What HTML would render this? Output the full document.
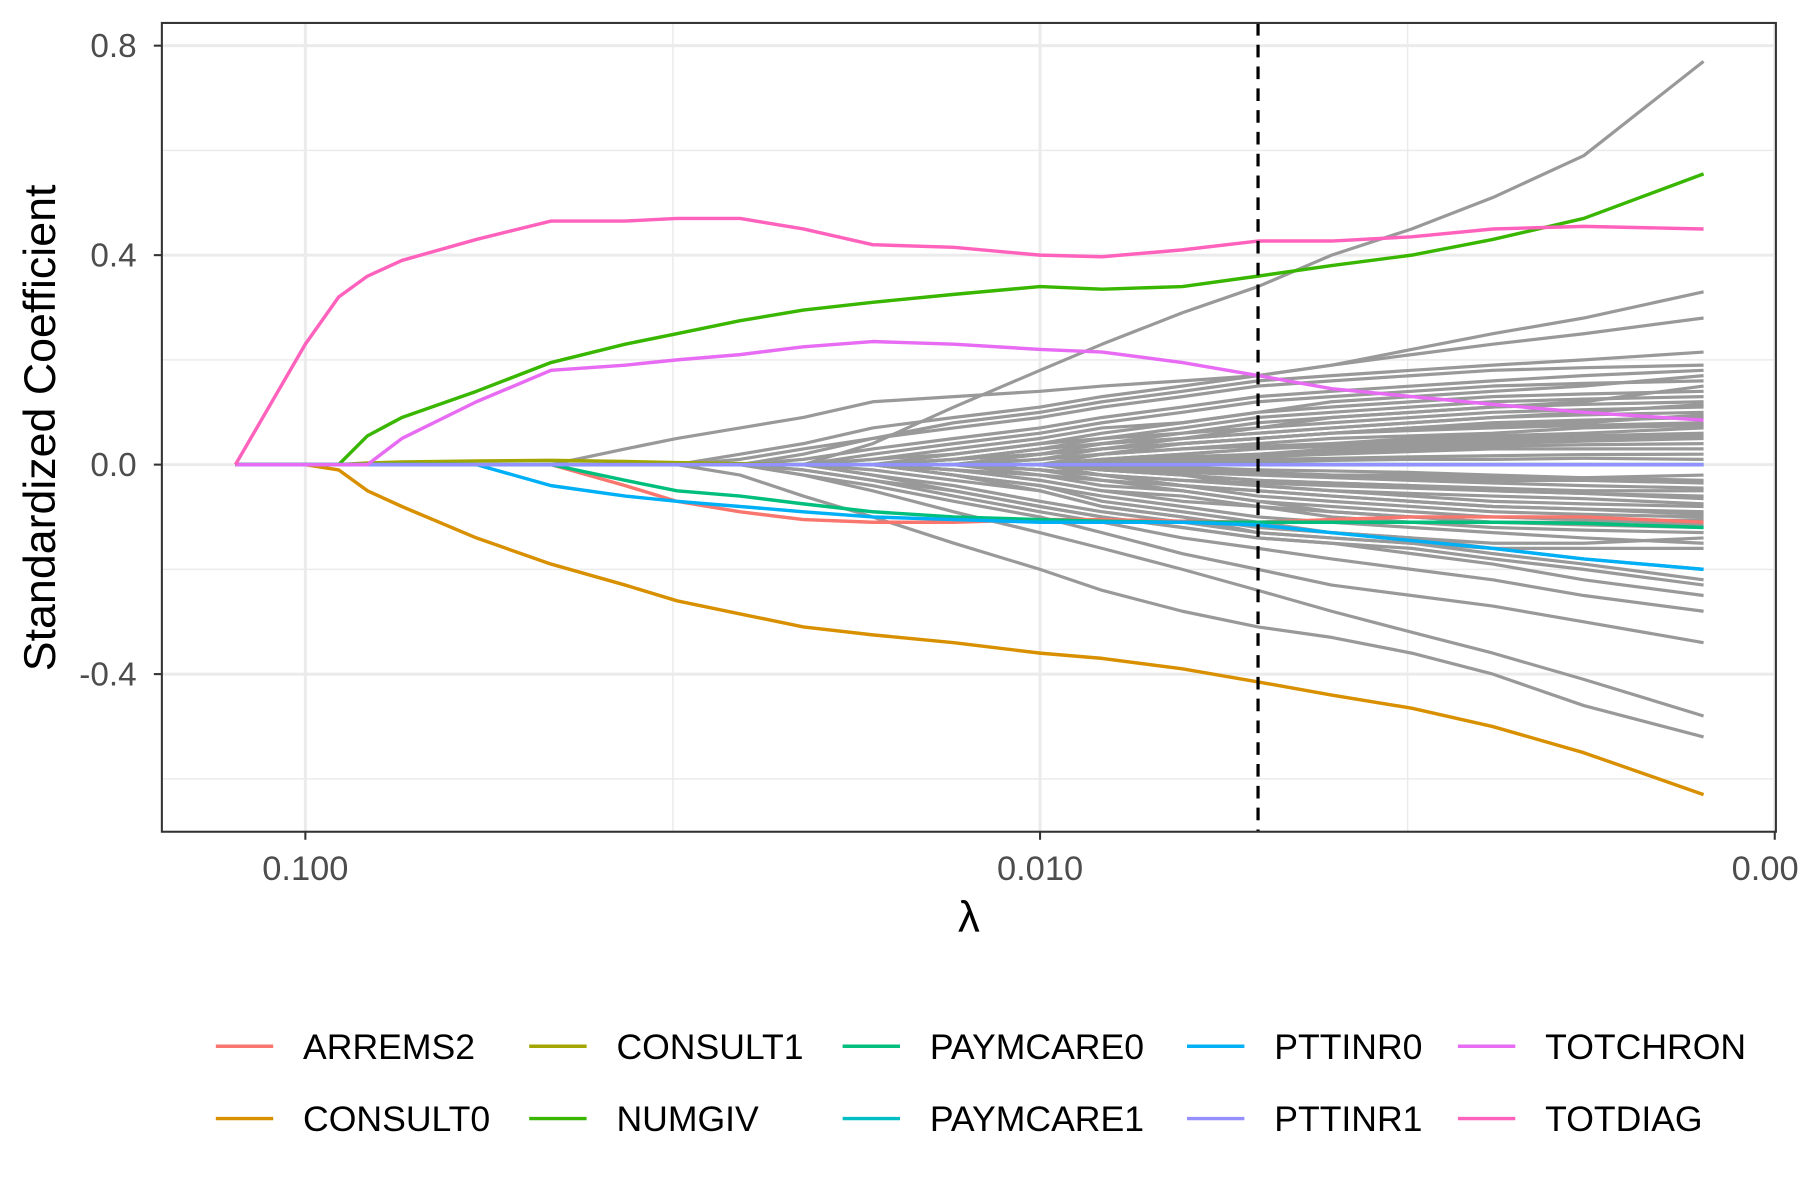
<!DOCTYPE html>
<html><head><meta charset="utf-8"><style>
html,body{margin:0;padding:0;background:#fff;}
svg{display:block;font-family:"Liberation Sans",sans-serif;}
</style></head>
<body>
<svg id="chart" width="1800" height="1200" viewBox="0 0 1568 1046" preserveAspectRatio="none" xmlns="http://www.w3.org/2000/svg">
<rect x="0" y="0" width="1568" height="1046" fill="#fff"/>
<g id="grid"></g>
<g id="greys"></g>
<g id="colored"></g>
<g id="axes"></g>
<g id="legend"></g>
</svg>
<script>
const lambdas=[0.1245,0.1,0.0901,0.0823,0.0739,0.0585,0.0463,0.0367,0.0312,0.0256,0.0210,0.0169,0.0131,0.0100,0.00823,0.00640,0.00505,0.00401,0.00312,0.00242,0.00182,0.00125];
const yTicks=[0.8,0.4,0.0,-0.4];
const yTickLabels=["0.8","0.4","0.0","-0.4"];
const yMinor=[0.6,0.2,-0.2,-0.6];
const xTicks=[0.1,0.01,0.001];
const xTickLabels=["0.100","0.010","0.001"];
const xMinor=[0.0316,0.00316];
const cvLambda=0.00505;
const seriesNames=["ARREMS2","CONSULT0","CONSULT1","NUMGIV","PAYMCARE0","PAYMCARE1","PTTINR0","PTTINR1","TOTCHRON","TOTDIAG"];
const seriesColors=["#F8766D","#D89000","#A3A500","#39B600","#00BF7D","#00BFC4","#00B0F6","#9590FF","#E76BF3","#FF62BC"];
const ARREMS2=[0,0,0,0,0,0,0,-0.04,-0.07,-0.09,-0.105,-0.11,-0.11,-0.105,-0.105,-0.108,-0.11,-0.105,-0.10,-0.10,-0.10,-0.11];
const CONSULT0=[0,0,-0.01,-0.05,-0.08,-0.14,-0.19,-0.23,-0.26,-0.285,-0.31,-0.325,-0.34,-0.36,-0.37,-0.39,-0.415,-0.44,-0.465,-0.50,-0.55,-0.63];
const CONSULT1=[0,0,0,0.003,0.005,0.007,0.008,0.006,0.004,0.002,0,0,0,0,0,0,0,0,0,0,0,0];
const NUMGIV=[0,0,0,0.055,0.09,0.14,0.195,0.23,0.25,0.275,0.295,0.31,0.325,0.34,0.335,0.34,0.36,0.38,0.40,0.43,0.47,0.555];
const PAYMCARE0=[0,0,0,0,0,0,0,-0.03,-0.05,-0.06,-0.075,-0.09,-0.10,-0.105,-0.108,-0.11,-0.11,-0.11,-0.11,-0.11,-0.112,-0.12];
const PAYMCARE1=[0,0,0,0,0,0,0,0,0,0,0,0,0,0,0,0,0,0,0,0,0,0];
const PTTINR0=[0,0,0,0,0,0,-0.04,-0.06,-0.07,-0.08,-0.09,-0.10,-0.105,-0.11,-0.11,-0.11,-0.115,-0.13,-0.145,-0.16,-0.18,-0.20];
const PTTINR1=[0,0,0,0,0,0,0,0,0,0,0,0,0,0,0,0,0,0,0,0,0,0];
const TOTCHRON=[0,0,0,0,0.05,0.12,0.18,0.19,0.20,0.21,0.225,0.235,0.23,0.22,0.215,0.195,0.17,0.145,0.13,0.115,0.10,0.085];
const TOTDIAG=[0,0.23,0.32,0.36,0.39,0.43,0.465,0.465,0.47,0.47,0.45,0.42,0.415,0.40,0.397,0.41,0.427,0.427,0.435,0.45,0.455,0.45];
const seriesValues=[ARREMS2,CONSULT0,CONSULT1,NUMGIV,PAYMCARE0,PAYMCARE1,PTTINR0,PTTINR1,TOTCHRON,TOTDIAG];
// grey paths: values from lambda index 6 onward (earlier values are 0)
const greyTails=[
[0,0,0,0,0,0.04,0.11,0.18,0.23,0.29,0.34,0.40,0.45,0.51,0.59,0.77],
[0,0.03,0.05,0.07,0.09,0.12,0.13,0.14,0.15,0.16,0.17,0.19,0.22,0.25,0.28,0.33],
[0,0,0,0.02,0.04,0.07,0.09,0.11,0.13,0.15,0.17,0.19,0.21,0.23,0.25,0.28],
[0,0,0,0.01,0.03,0.05,0.08,0.10,0.12,0.14,0.16,0.17,0.18,0.19,0.20,0.215],
[0,0,0,0,0.02,0.05,0.07,0.09,0.11,0.13,0.15,0.16,0.17,0.18,0.185,0.19],
[0,0,0,0,0.01,0.03,0.05,0.07,0.09,0.11,0.13,0.14,0.15,0.16,0.17,0.18],
[0,0,0,0,0,0.02,0.04,0.06,0.08,0.10,0.12,0.13,0.14,0.15,0.155,0.16],
[0,0,0,0,0,0.01,0.03,0.05,0.07,0.08,0.10,0.11,0.12,0.13,0.135,0.14],
[0,0,0,0,0,0,0.02,0.04,0.05,0.06,0.08,0.09,0.10,0.11,0.115,0.12],
[0,0,0,0,0,0,0.01,0.03,0.04,0.05,0.06,0.07,0.08,0.09,0.095,0.10],
[0,0,0,0,0,0,0.01,0.02,0.03,0.04,0.05,0.06,0.065,0.07,0.075,0.08],
[0,0,0,0,0,0,0,0.01,0.02,0.03,0.035,0.04,0.045,0.05,0.055,0.06],
[0,0,0,0,0,0,0,0,0.01,0.015,0.02,0.025,0.03,0.035,0.038,0.04],
[0,0,0,0,0,0,0,0,0,0.005,0.01,0.012,0.015,0.017,0.019,0.02],
[0,0,0,0,0,0,0.01,0.03,0.05,0.07,0.09,0.10,0.11,0.12,0.125,0.13],
[0,0,0,0,0,0,0,0.02,0.04,0.05,0.07,0.08,0.09,0.10,0.105,0.11],
[0,0,0,0,0,0,0,0.01,0.02,0.04,0.05,0.06,0.07,0.08,0.085,0.09],
[0,0,0,0,0,0,0,0,0.01,0.02,0.03,0.04,0.05,0.055,0.06,0.07],
[0,0,0,0,0,0.01,0.02,0.04,0.06,0.08,0.10,0.12,0.13,0.14,0.15,0.17],
[0,0,0,0,0,0,0.01,0.02,0.04,0.06,0.07,0.09,0.10,0.11,0.12,0.15],
[0,0,0,0,0,0,0,0.02,0.03,0.05,0.06,0.07,0.08,0.09,0.10,0.115],
[0,0,0,0,0,0,0,0.01,0.03,0.04,0.05,0.06,0.07,0.075,0.08,0.095],
[0,0,0,0,0,0,0,0,0.02,0.03,0.04,0.05,0.055,0.06,0.07,0.075],
[0,0,0,0,0,0,0,0,0.01,0.02,0.03,0.035,0.04,0.045,0.05,0.055],
[0,0,0,0,0,0,0,0,0,0.01,0.015,0.02,0.025,0.03,0.03,0.03],
[0,0,0,0,0,0,0,0,0,0.005,0.005,0.008,0.01,0.01,0.012,0.01],
[0,0,0,-0.02,-0.06,-0.10,-0.15,-0.20,-0.24,-0.28,-0.31,-0.33,-0.36,-0.40,-0.46,-0.52],
[0,0,0,0,-0.02,-0.05,-0.09,-0.13,-0.16,-0.20,-0.24,-0.28,-0.32,-0.36,-0.41,-0.48],
[0,0,0,0,-0.02,-0.04,-0.07,-0.10,-0.13,-0.17,-0.20,-0.23,-0.25,-0.27,-0.30,-0.34],
[0,0,0,0,-0.01,-0.03,-0.06,-0.09,-0.11,-0.14,-0.16,-0.18,-0.20,-0.22,-0.25,-0.28],
[0,0,0,0,-0.01,-0.03,-0.05,-0.08,-0.10,-0.12,-0.14,-0.15,-0.17,-0.19,-0.22,-0.25],
[0,0,0,0,0,-0.02,-0.05,-0.08,-0.10,-0.12,-0.14,-0.15,-0.16,-0.18,-0.20,-0.23],
[0,0,0,0,0,-0.02,-0.04,-0.07,-0.09,-0.11,-0.13,-0.14,-0.15,-0.17,-0.19,-0.22],
[0,0,0,0,0,-0.01,-0.03,-0.05,-0.08,-0.10,-0.12,-0.13,-0.14,-0.16,-0.18,-0.20],
[0,0,0,0,0,0,-0.02,-0.04,-0.06,-0.08,-0.10,-0.11,-0.12,-0.13,-0.14,-0.15],
[0,0,0,0,0,0,-0.01,-0.03,-0.05,-0.06,-0.08,-0.09,-0.10,-0.11,-0.115,-0.12],
[0,0,0,0,0,0,-0.01,-0.02,-0.03,-0.04,-0.05,-0.06,-0.07,-0.08,-0.085,-0.09],
[0,0,0,0,0,0,0,-0.01,-0.02,-0.03,-0.035,-0.04,-0.045,-0.05,-0.055,-0.06],
[0,0,0,0,0,0,0,0,-0.01,-0.015,-0.02,-0.025,-0.03,-0.035,-0.04,-0.045],
[0,0,0,0,0,0,0,0,0,-0.005,-0.01,-0.012,-0.015,-0.02,-0.025,-0.03],
[0,0,0,0,0,0,0,-0.01,-0.03,-0.05,-0.07,-0.09,-0.10,-0.11,-0.11,-0.105],
[0,0,0,0,0,0,0,-0.01,-0.02,-0.04,-0.06,-0.07,-0.08,-0.09,-0.095,-0.10],
[0,0,0,0,0,0,0,0,-0.01,-0.02,-0.04,-0.05,-0.06,-0.07,-0.075,-0.08],
[0,0,0,0,0,0,0,0,-0.01,-0.02,-0.03,-0.035,-0.04,-0.05,-0.055,-0.065],
[0,0,0,0,0,0,0,0,0.005,0.01,0.02,0.03,0.035,0.04,0.045,0.05],
[0,0,0,0,0,0,0,0,-0.005,-0.01,-0.015,-0.02,-0.025,-0.03,-0.03,-0.035],
[0,0,0,0,0,0,-0.02,-0.05,-0.08,-0.10,-0.13,-0.14,-0.15,-0.16,-0.16,-0.16],
[0,0,0,0,0,0,-0.02,-0.04,-0.07,-0.09,-0.11,-0.13,-0.14,-0.15,-0.15,-0.14],
[0,0,0,0,0,0,-0.01,-0.03,-0.05,-0.07,-0.08,-0.10,-0.11,-0.12,-0.125,-0.13],
[0,0,0,0,0,0,0,-0.02,-0.04,-0.05,-0.07,-0.08,-0.09,-0.10,-0.105,-0.115],
[0,0,0,0,0,0,0,-0.01,-0.02,-0.04,-0.05,-0.06,-0.07,-0.08,-0.085,-0.095],
[0,0,0,0,0,0,0,0,-0.02,-0.03,-0.04,-0.05,-0.055,-0.06,-0.065,-0.075],
[0,0,0,0,0,0,0,0,-0.01,-0.02,-0.03,-0.035,-0.04,-0.045,-0.05,-0.05],
[0,0,0,0,0,0,0,0,0,-0.01,-0.015,-0.02,-0.02,-0.025,-0.025,-0.02]
];
const X0=266,XD=640,Y0=405,YS=456.5;
function xs(l){return X0+(-Math.log10(l)-1)*XD;}
function ys(v){return Y0-v*YS;}
const NS="http://www.w3.org/2000/svg";
function mk(tag,attrs,parent){const e=document.createElementNS(NS,tag);for(const k in attrs)e.setAttribute(k,attrs[k]);parent.appendChild(e);return e;}
const grid=document.getElementById('grid');
mk('rect',{x:141,y:20,width:1406,height:705,fill:'#fff'},grid);
yMinor.forEach(v=>{const l=mk('line',{x1:141,x2:1547,y1:ys(v),y2:ys(v),stroke:'#ebebeb','stroke-width':1.3},grid);

});
xMinor.forEach(v=>{const l=mk('line',{x1:xs(v),x2:xs(v),y1:20,y2:725,stroke:'#ebebeb','stroke-width':1.3},grid);

});
yTicks.forEach(v=>{const l=mk('line',{x1:141,x2:1547,y1:ys(v),y2:ys(v),stroke:'#ebebeb','stroke-width':2.6},grid);

});
xTicks.forEach(v=>{const l=mk('line',{x1:xs(v),x2:xs(v),y1:20,y2:725,stroke:'#ebebeb','stroke-width':2.6},grid);

});
function pathD(vals){return vals.map((v,i)=>(i?'L':'M')+xs(lambdas[i]).toFixed(1)+','+ys(v).toFixed(1)).join(' ');}
const greys=document.getElementById('greys');
greyTails.forEach(t=>{const vals=[0,0,0,0,0,0].concat(t);
const p=mk('path',{d:pathD(vals),fill:'none',stroke:'#999999','stroke-width':2.8,'stroke-linejoin':'round'},greys);

});
const col=document.getElementById('colored');
seriesValues.forEach((vals,i)=>{const p=mk('path',{d:pathD(vals),fill:'none',stroke:seriesColors[i],'stroke-width':3,'stroke-linejoin':'round'},col);

});
const ax=document.getElementById('axes');
const cv=mk('line',{x1:xs(cvLambda),x2:xs(cvLambda),y1:20,y2:725,stroke:'#000','stroke-width':2.8,'stroke-dasharray':'11,8'},ax);


const fr=mk('rect',{x:141,y:20,width:1406,height:705,fill:'none',stroke:'#333','stroke-width':1.8},ax);


yTicks.forEach((v,i)=>{mk('line',{x1:134,x2:141,y1:ys(v),y2:ys(v),stroke:'#333','stroke-width':1.8},ax);
const t=mk('text',{x:119,y:ys(v)+10,'text-anchor':'end','font-size':29,fill:'#4d4d4d'},ax);t.textContent=yTickLabels[i];

});
xTicks.forEach((v,i)=>{mk('line',{x1:xs(v),x2:xs(v),y1:725,y2:732,stroke:'#333','stroke-width':1.8},ax);
const t=mk('text',{x:xs(v),y:767,'text-anchor':'middle','font-size':30,fill:'#4d4d4d'},ax);t.textContent=xTickLabels[i];

});
const yt=mk('text',{x:0,y:0,transform:'translate(48,373) rotate(-90)','text-anchor':'middle','font-size':39,fill:'#000'},ax);yt.textContent='Standardized Coefficient';


const xt=mk('text',{x:844,y:812,'text-anchor':'middle','font-size':38,fill:'#000'},ax);xt.textContent='λ';


const lg=document.getElementById('legend');
const colX=[188,461,734,1034,1270];const rowY=[912,975];
seriesNames.forEach((n,i)=>{const c=Math.floor(i/2),r=i%2;const g=mk('g',{},lg);


mk('line',{x1:colX[c],x2:colX[c]+50,y1:rowY[r],y2:rowY[r],stroke:seriesColors[i],'stroke-width':3},g);
const t=mk('text',{x:colX[c]+76,y:rowY[r]+11,'font-size':31,fill:'#000'},g);t.textContent=n;});
</script>
</body></html>
